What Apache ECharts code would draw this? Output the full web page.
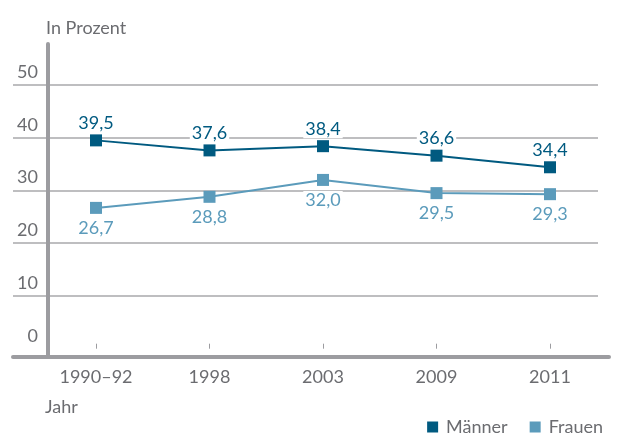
<!DOCTYPE html>
<html><head><meta charset="utf-8">
<script src="https://cdn.jsdelivr.net/npm/echarts@6/dist/echarts.min.js"></script>
<style>html,body{margin:0;padding:0;background:#fff}#c{width:620px;height:433px}</style>
</head><body><div id="c"></div>
<script>
var categories = ['1990–92', '1998', '2003', '2009', '2011'];
var maenner = [39.5, 37.6, 38.4, 36.6, 34.4];
var frauen = [26.7, 28.8, 32.0, 29.5, 29.3];
var yTicks = [0, 10, 20, 30, 40, 50];
var seriesNames = ['Männer', 'Frauen'];

var FONT = 'Lato';
var GREY_TXT = '#6b6c70';
var AXIS_COL = '#9c9ca0';
var GRID_COL = '#a9a9ab';
var C_M = '#005a80';
var C_F = '#5b9bbb';

function fmt(p){ return p.value.toFixed(1).replace('.', ','); }

var chart = echarts.init(document.getElementById('c'), null, {renderer:'canvas'});
chart.setOption({
  animation: false,
  backgroundColor: '#fff',
  textStyle: {fontFamily: FONT},
  title: [
    {text: 'In Prozent', left: 41, top: 14, textStyle: {fontFamily: FONT, fontSize: 18, fontWeight: 'normal', color: GREY_TXT}},
    {text: 'Jahr', left: 40, top: 393, textStyle: {fontFamily: FONT, fontSize: 18, fontWeight: 'normal', color: GREY_TXT}}
  ],
  legend: {
    data: seriesNames, right: 12, top: 413, icon: 'rect', itemWidth: 11, itemHeight: 11, itemGap: 22,
    textStyle: {fontFamily: FONT, fontSize: 18, color: GREY_TXT, padding: [0,0,0,3]}
  },
  grid: [
    {left: 13, right: 22, top: 85, bottom: 84.3},
    {left: 39.25, right: 13.25, top: 85, bottom: 84.3},
    {left: 13, right: 11, top: 44, bottom: 76.3},
    {left: 48, right: 11, top: 44, bottom: 76.3}
  ],
  xAxis: [
    {gridIndex: 0, type: 'value', min: 0, max: 1, show: false},
    {gridIndex: 1, type: 'category', data: categories, offset: 8,
      axisLine: {show: false},
      axisTick: {show: true, inside: true, length: 5, alignWithLabel: true, lineStyle: {color: AXIS_COL, width: 1}},
      axisLabel: {margin: 11, fontFamily: FONT, fontSize: 18, color: GREY_TXT},
      splitLine: {show: false}},
    {gridIndex: 2, type: 'value', min: 0, max: 1, axisLine: {show: true, lineStyle: {color: AXIS_COL, width: 4}},
      axisTick: {show: false}, axisLabel: {show: false}, splitLine: {show: false}},
    {gridIndex: 3, type: 'value', min: 0, max: 1, show: false}
  ],
  yAxis: [
    {gridIndex: 0, type: 'value', min: yTicks[0], max: yTicks[yTicks.length-1], interval: 10,
      axisLine: {show: false}, axisTick: {show: false},
      axisLabel: {inside: true, align: 'right', margin: 25, verticalAlign: 'bottom', lineHeight: 20, padding: [0,0,3,0],
        fontFamily: FONT, fontSize: 18, color: GREY_TXT},
      splitLine: {show: true, showMinLine: false, lineStyle: {color: GRID_COL, width: 1.5}}},
    {gridIndex: 1, type: 'value', min: yTicks[0], max: yTicks[yTicks.length-1], show: false},
    {gridIndex: 2, type: 'value', min: 0, max: 1, show: false},
    {gridIndex: 3, type: 'value', min: 0, max: 1, z: 5,
      axisLine: {show: true, lineStyle: {color: AXIS_COL, width: 4}},
      axisTick: {show: false}, axisLabel: {show: false}, splitLine: {show: false}}
  ],
  series: [
    {name: seriesNames[0], type: 'line', xAxisIndex: 1, yAxisIndex: 1, data: maenner,
      symbol: 'rect', symbolSize: 12, z: 4,
      itemStyle: {color: C_M}, lineStyle: {color: C_M, width: 2},
      label: {show: true, position: 'top', distance: 2, formatter: fmt, fontFamily: FONT, fontSize: 18, color: C_M,
        backgroundColor: '#fff', padding: [0,2]}},
    {name: seriesNames[1], type: 'line', xAxisIndex: 1, yAxisIndex: 1, data: frauen,
      symbol: 'rect', symbolSize: 12, z: 3,
      itemStyle: {color: C_F}, lineStyle: {color: C_F, width: 2},
      label: {show: true, position: 'bottom', distance: 5, formatter: fmt, fontFamily: FONT, fontSize: 18, color: C_F,
        backgroundColor: '#fff', padding: [0,2]}}
  ]
});
</script></body></html>
